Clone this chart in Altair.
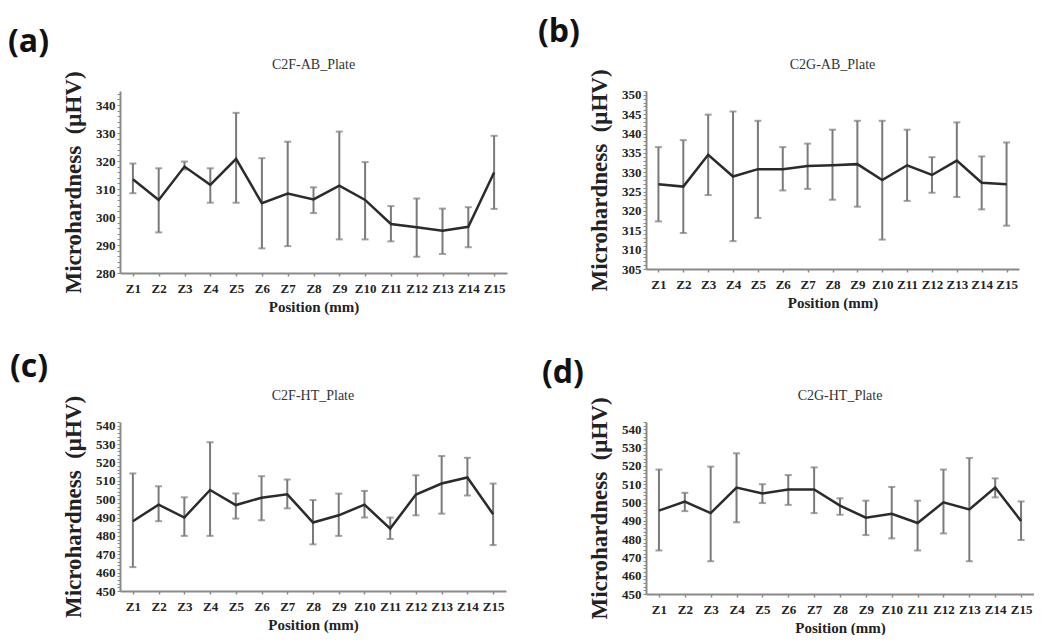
import altair as alt
import pandas as pd

zones = ["Z%d" % i for i in range(1, 16)]

# (a) C2F-AB_Plate
a_mean = [313.5, 306.1, 318.0, 311.5, 320.8, 304.9, 308.4, 306.3, 311.2, 306.1, 297.5, 296.3, 295.1, 296.5, 315.9]
a_upper = [319.1, 317.4, 319.8, 317.4, 337.2, 321.0, 326.9, 310.6, 330.5, 319.6, 303.9, 306.6, 303.0, 303.5, 329.0]
a_lower = [308.5, 294.5, 317.0, 305.1, 305.1, 288.8, 289.6, 301.4, 292.0, 292.0, 291.3, 285.8, 286.8, 289.2, 302.9]

# (b) C2G-AB_Plate
b_mean = [326.9, 326.3, 334.5, 328.9, 330.8, 330.8, 331.6, 331.8, 332.1, 328.0, 331.8, 329.3, 333.0, 327.3, 326.9]
b_upper = [336.5, 338.3, 344.9, 345.7, 343.3, 336.5, 337.4, 341.0, 343.3, 343.3, 341.0, 333.9, 342.9, 334.1, 337.7]
b_lower = [317.3, 314.3, 324.1, 312.2, 318.2, 325.3, 325.7, 322.9, 321.1, 312.6, 322.6, 324.7, 323.6, 320.4, 316.2]

# (c) C2F-HT_Plate
c_mean = [488.0, 497.0, 490.0, 505.0, 496.8, 500.8, 502.6, 487.3, 491.2, 497.0, 484.0, 502.5, 508.5, 511.8, 491.8]
c_upper = [514.0, 507.0, 501.0, 531.0, 503.1, 512.5, 510.7, 499.5, 503.0, 504.5, 490.0, 513.0, 523.5, 522.5, 508.5]
c_lower = [463.0, 488.0, 480.0, 480.0, 489.4, 488.5, 495.0, 475.4, 480.0, 490.0, 478.3, 491.2, 492.1, 502.0, 475.0]

# (d) C2G-HT_Plate
d_mean = [495.6, 500.5, 494.2, 508.2, 505.0, 507.1, 507.1, 498.3, 491.7, 493.8, 488.8, 500.1, 496.2, 508.2, 489.9]
d_upper = [518.0, 505.3, 519.6, 526.9, 510.0, 515.0, 519.2, 502.3, 501.0, 508.5, 501.0, 518.0, 524.3, 513.2, 500.6]
d_lower = [473.8, 495.3, 467.9, 489.2, 499.7, 498.7, 494.2, 493.3, 482.2, 480.4, 473.8, 483.1, 467.9, 502.8, 479.5]

titles = ["C2F-AB_Plate", "C2G-AB_Plate", "C2F-HT_Plate", "C2G-HT_Plate"]
letters = ["(a)", "(b)", "(c)", "(d)"]

SERIF = "Liberation Serif, Times New Roman, serif"
AXIS_GREY = "#8a8a8a"


def panel(title, letter, means, uppers, lowers, domain, tick_step, label_step,
          w, h, letter_dx, letter_dy):
    df = pd.DataFrame({"zone": zones, "mean": means, "upper": uppers, "lower": lowers})
    base = alt.Chart(df)
    x_axis = alt.Axis(
        title="Position (mm)", labelAngle=0, labelFont=SERIF, labelFontWeight="bold",
        labelFontSize=13, labelColor="#222222", labelPadding=6,
        titleFont=SERIF, titleFontSize=15, titleFontWeight="bold", titleColor="#222222",
        titlePadding=4, domainColor=AXIS_GREY, domainWidth=2, tickColor=AXIS_GREY,
        tickSize=3, tickWidth=1.5, grid=False,
    )
    vals = list(range(int(domain[0]), int(domain[1]) + 1, tick_step))
    y_axis = alt.Axis(
        title="Microhardness\u00a0\u00a0(μHV)", values=vals,
        labelExpr="datum.value %% %d === 0 ? datum.label : ''" % label_step,
        labelOverlap=False, labelFont=SERIF, labelFontWeight="bold", labelFontSize=13,
        labelColor="#222222", labelPadding=2,
        titleFont=SERIF, titleFontSize=23, titleFontWeight="bold", titleColor="#222222",
        titlePadding=10, domainColor=AXIS_GREY, domainWidth=2, tickColor=AXIS_GREY,
        tickSize=3, tickWidth=1, grid=False,
    )
    x = alt.X("zone:N", sort=zones, scale=alt.Scale(type="point", padding=0.5), axis=x_axis)
    yscale = alt.Scale(domain=domain, zero=False, nice=False)

    bars = base.mark_rule(color="#7a7a7a", strokeWidth=2).encode(
        x=x, y=alt.Y("lower:Q", scale=yscale, axis=y_axis), y2="upper:Q")
    cap_hi = base.mark_tick(color="#7a7a7a", thickness=2, size=7).encode(
        x=x, y=alt.Y("upper:Q", scale=yscale, axis=y_axis))
    cap_lo = base.mark_tick(color="#7a7a7a", thickness=2, size=7).encode(
        x=x, y=alt.Y("lower:Q", scale=yscale, axis=y_axis))
    line = base.mark_line(color="#2b2b2b", strokeWidth=2.5).encode(
        x=x, y=alt.Y("mean:Q", scale=yscale, axis=y_axis))
    lab = alt.Chart(pd.DataFrame({"t": [letter]})).mark_text(
        align="left", baseline="top", font="Open Sans", fontWeight="bold", fontSize=32,
        color="#111111").encode(text="t:N", x=alt.value(letter_dx), y=alt.value(letter_dy))
    ttl = alt.Chart(pd.DataFrame({"t": [title]})).mark_text(
        align="center", baseline="middle", font=SERIF, fontSize=14,
        color="#333333").encode(text="t:N", x=alt.value(w / 2), y=alt.value(-26))

    return alt.layer(bars, cap_hi, cap_lo, line, lab, ttl).properties(width=w, height=h)


pa = panel(titles[0], letters[0], a_mean, a_upper, a_lower, [280, 345], 2, 10, 387, 182, -112, -64)
pb = panel(titles[1], letters[1], b_mean, b_upper, b_lower, [305, 351], 1, 5, 373, 178, -108, -74)
pc = panel(titles[2], letters[2], c_mean, c_upper, c_lower, [450, 542], 2, 10, 386, 169, -110, -70)
pd_ = panel(titles[3], letters[3], d_mean, d_upper, d_lower, [450, 544], 2, 10, 388, 172, -104, -64)

chart = alt.concat(
    pa, pb, pc, pd_, columns=2, spacing={"row": 149, "column": 139}, bounds="flush"
).properties(
    padding={"top": 8, "left": 0, "right": 0, "bottom": 0}, background="white"
).configure_view(stroke=None)

chart.save("out.html", embed_options={"renderer": "svg", "actions": False})
